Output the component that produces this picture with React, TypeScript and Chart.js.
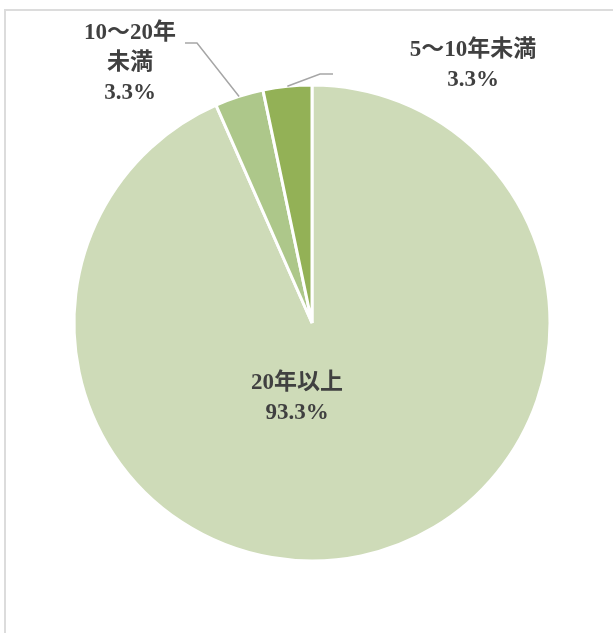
import React, { useEffect, useRef } from "react";
import { Chart, registerables } from "chart.js";

Chart.register(...registerables);

const categories = ["20年以上", "10～20年未満", "5～10年未満"];
const values = [93.3, 3.3, 3.3];
const labelLines = [["20年以上", "93.3%"], ["10～20年", "未満", "3.3%"], ["5～10年未満", "3.3%"]];
const colors = ["#cedbb8", "#adc78a", "#93b156"];

// label layout (center of first text line), leader elbow
const labelPos = [
  { x: 297, y: 383, leader: null as null | { ex: number; ey: number; hx: number } },
  { x: 130, y: 33, leader: { ex: 197, ey: 43, hx: 185 } },
  { x: 473, y: 50, leader: { ex: 320, ey: 74, hx: 333 } },
];

const FONT = 'bold 23px "Liberation Serif", "Noto Sans CJK JP", serif';

const labelPlugin = {
  id: "pieLabels",
  afterDatasetsDraw(chart: any) {
    const ctx = chart.ctx as CanvasRenderingContext2D;
    const meta = chart.getDatasetMeta(0);
    ctx.save();
    meta.data.forEach((arc: any, i: number) => {
      const p = labelPos[i];
      const lines = labelLines[i];
      if (p.leader) {
        const { x, y, startAngle, endAngle, outerRadius } = arc.getProps(
          ["x", "y", "startAngle", "endAngle", "outerRadius"],
          true
        );
        const mid = (startAngle + endAngle) / 2;
        const sx = x + Math.cos(mid) * outerRadius;
        const sy = y + Math.sin(mid) * outerRadius;
        ctx.strokeStyle = "#a6a6a6";
        ctx.lineWidth = 1.5;
        ctx.beginPath();
        ctx.moveTo(sx, sy);
        ctx.lineTo(p.leader.ex, p.leader.ey);
        ctx.lineTo(p.leader.hx, p.leader.ey);
        ctx.stroke();
      }
      ctx.fillStyle = "#404040";
      ctx.font = FONT;
      ctx.textAlign = "center";
      ctx.textBaseline = "middle";
      lines.forEach((t, j) => {
        ctx.fillText(t, p.x, p.y + j * 30);
      });
    });
    ctx.restore();
  },
};

export default function App() {
  const ref = useRef<HTMLCanvasElement | null>(null);
  useEffect(() => {
    if (!ref.current) return;
    const chart = new Chart(ref.current, {
      type: "pie",
      data: {
        labels: categories,
        datasets: [
          {
            data: values,
            backgroundColor: colors,
            borderColor: "#ffffff",
            borderWidth: 3,
            hoverOffset: 0,
          },
        ],
      },
      options: {
        responsive: false,
        animation: false,
        radius: 238,
        layout: { padding: { left: 75, right: 64, top: 86, bottom: 73 } },
        plugins: {
          legend: { display: false },
          tooltip: { enabled: false },
        },
      },
      plugins: [labelPlugin],
    });
    return () => chart.destroy();
  }, []);
  return (
    <div style={{ position: "fixed", left: 0, top: 0, width: 613, height: 633, background: "#fff", overflow: "hidden" }}>
      <div
        style={{
          position: "absolute",
          left: 4,
          top: 9,
          width: 700,
          height: 700,
          borderTop: "2px solid #dcdcdc",
          borderLeft: "2px solid #dcdcdc",
        }}
      />
      <canvas ref={ref} width={613} height={633} style={{ position: "absolute", left: 0, top: 0 }} />
    </div>
  );
}
